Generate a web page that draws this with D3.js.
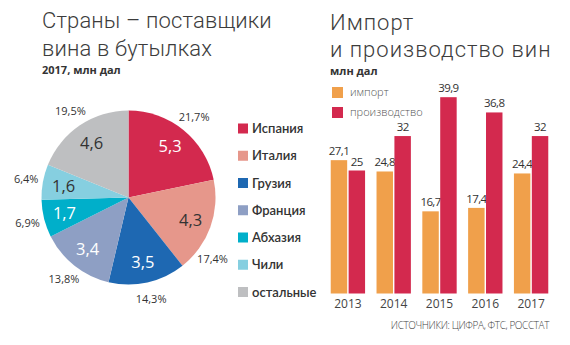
<!DOCTYPE html>
<html><head><meta charset="utf-8">
<script src="https://cdn.jsdelivr.net/npm/d3@7"></script>
<style>
html,body{margin:0;padding:0;background:#fff;}
svg{display:block;}
</style></head>
<body>
<svg id="chart" width="570" height="345"></svg>
<script>
// ---- Pie data ----
const countries = ["Испания","Италия","Грузия","Франция","Абхазия","Чили","остальные"];
const countryValues = [5.3,4.3,3.5,3.4,1.7,1.6,4.6];
const countryShares = ["21,7%","17,4%","14,3%","13,8%","6,9%","6,4%","19,5%"];
const countryColors = ["#d3294e","#e6978b","#1e68b2","#8e9fc4","#00afca","#86cfe0","#bebfc1"];
const valueTextColors = ["#fff","#333","#fff","#fff","#fff","#333","#333"];

// ---- Bar data ----
const years = ["2013","2014","2015","2016","2017"];
const importValues = [27.1,24.8,16.7,17.4,24.4];
const productionValues = [25,32,39.9,36.8,32];
const importLabels = ["27,1","24,8","16,7","17,4","24,4"];
const productionLabels = ["25","32","39,9","36,8","32"];
const seriesNames = ["импорт","производство"];
const seriesColors = ["#f0a04b","#d3294e"];

const svg = d3.select("#chart");
const fmt = v => String(v).replace(".", ",");
const titleFont = "Roboto, 'Open Sans', sans-serif";
const numFont = "'Open Sans', 'Noto Sans', sans-serif";

// ---- Left titles ----
const lt = svg.append("g").attr("font-family", titleFont).attr("fill", "#3c3c3c").attr("letter-spacing", 0.15);
lt.append("text").attr("x", 42).attr("y", 28).attr("font-size", 22).attr("font-weight", 300).text("Страны – поставщики");
lt.append("text").attr("x", 42).attr("y", 56).attr("font-size", 22).attr("font-weight", 300).text("вина в бутылках");
lt.append("text").attr("x", 42).attr("y", 73.5).attr("font-size", 11).attr("font-weight", 700).attr("fill", "#333")
  .attr("letter-spacing", 0).attr("font-family", numFont).text("2017, млн дал");

// ---- Pie ----
const cx = 128.5, cy = 197.5, R = 87;
const pieData = countries.map((c, i) => ({name: c, value: countryValues[i], share: countryShares[i], color: countryColors[i], tc: valueTextColors[i]}));
const pie = d3.pie().value(d => d.value).sort(null);
const arcs = pie(pieData);
const arc = d3.arc().innerRadius(0).outerRadius(R);
const labelArc = d3.arc().innerRadius(50).outerRadius(82);
const pg = svg.append("g").attr("transform", `translate(${cx},${cy})`);
pg.selectAll("path").data(arcs).join("path")
  .attr("d", arc).attr("fill", d => d.data.color);
pg.selectAll("text.val").data(arcs).join("text").attr("class", "val")
  .attr("transform", d => `translate(${labelArc.centroid(d)})`)
  .attr("text-anchor", "middle").attr("dy", "0.36em")
  .attr("font-family", numFont).attr("font-size", 16.5)
  .attr("fill", d => d.data.tc).text(d => fmt(d.data.value));

// outside percentage labels, pushed away from legend if needed
const rOut = 104, maxX = 84;
pg.selectAll("text.pct").data(arcs).join("text").attr("class", "pct")
  .attr("transform", d => {
    let a = (d.startAngle + d.endAngle) / 2;
    let x = rOut * Math.sin(a);
    if (x > maxX && a < Math.PI) {
      const lim = Math.asin(maxX / rOut);
      a = a < Math.PI / 2 ? lim : Math.PI - lim;
    }
    return `translate(${rOut * Math.sin(a)},${-rOut * Math.cos(a)})`;
  })
  .attr("text-anchor", "middle").attr("dy", "0.36em")
  .attr("font-family", numFont).attr("font-size", 11)
  .attr("fill", "#333").text(d => d.data.share);

// ---- Pie legend ----
const legY = d3.scalePoint().domain(countries).range([128.5, 292]);
const lg = svg.append("g");
const li = lg.selectAll("g").data(pieData).join("g")
  .attr("transform", d => `translate(238,${legY(d.name)})`);
li.append("rect").attr("x", 0).attr("y", -5).attr("width", 10).attr("height", 10).attr("fill", d => d.color);
li.append("text").attr("x", 14).attr("dy", "0.36em")
  .attr("font-family", "Lato, 'Open Sans', sans-serif").attr("font-size", 13).attr("font-weight", 600)
  .attr("fill", "#333").text(d => d.name);

// ---- Right titles ----
const rt = svg.append("g").attr("font-family", titleFont).attr("fill", "#3c3c3c").attr("letter-spacing", 1);
rt.append("text").attr("x", 330).attr("y", 30).attr("font-size", 22).attr("font-weight", 300).text("Импорт");
rt.append("text").attr("x", 330).attr("y", 57).attr("font-size", 22).attr("font-weight", 300).text("и производство вин");
rt.append("text").attr("x", 330).attr("y", 75).attr("font-size", 11).attr("font-weight", 700).attr("fill", "#333")
  .attr("letter-spacing", 0).attr("font-family", numFont).text("млн дал");

// ---- Bar legend ----
const bl = svg.append("g").selectAll("g").data(seriesNames).join("g")
  .attr("transform", (d, i) => `translate(332,${92.5 + i * 20})`);
bl.append("rect").attr("y", -5.5).attr("width", 11).attr("height", 11).attr("fill", (d, i) => seriesColors[i]);
bl.append("text").attr("x", 18).attr("dy", "0.36em")
  .attr("font-family", numFont).attr("font-size", 11).attr("font-weight", 300)
  .attr("fill", "#555").text(d => d);

// ---- Bars ----
const x0 = d3.scaleBand().domain(years).range([325, 554]).paddingInner(0.25).paddingOuter(0.125);
const x1 = d3.scaleBand().domain([0, 1]).range([0, x0.bandwidth()]).paddingInner(0.08);
const y = d3.scaleLinear().domain([0, 40]).range([293.5, 293.5 - 196.8]);

const barRows = years.map((yr, i) => ({year: yr, vals: [importValues[i], productionValues[i]], labels: [importLabels[i], productionLabels[i]]}));
const groups = svg.append("g").selectAll("g").data(barRows).join("g")
  .attr("transform", d => `translate(${x0(d.year)},0)`);
const cells = groups.selectAll("g").data(d => d.vals.map((v, k) => ({k, v, label: d.labels[k]}))).join("g");
cells.append("rect")
  .attr("x", d => x1(d.k)).attr("width", x1.bandwidth())
  .attr("y", d => y(d.v)).attr("height", d => y(0) - y(d.v))
  .attr("fill", d => seriesColors[d.k]);
cells.append("text")
  .attr("x", d => x1(d.k) + x1.bandwidth() / 2).attr("y", d => y(d.v) - 5)
  .attr("text-anchor", "middle")
  .attr("font-family", numFont).attr("font-size", 11.5).attr("letter-spacing", -0.6)
  .attr("fill", "#333").text(d => d.label);

// x axis labels
const xAxis = d3.axisBottom(x0).tickSize(0).tickPadding(6);
const ax = svg.append("g").attr("transform", `translate(0,${y(0)})`).call(xAxis);
ax.select(".domain").remove();
ax.selectAll("text").attr("font-family", numFont).attr("font-size", 12).attr("fill", "#444");

// source
svg.append("text").attr("x", 549).attr("y", 329).attr("text-anchor", "end")
  .attr("font-family", numFont).attr("font-size", 10).attr("font-weight", 300)
  .attr("letter-spacing", -0.4).attr("fill", "#444").text("ИСТОЧНИКИ: ЦИФРА, ФТС, РОССТАТ");
</script>
</body></html>
